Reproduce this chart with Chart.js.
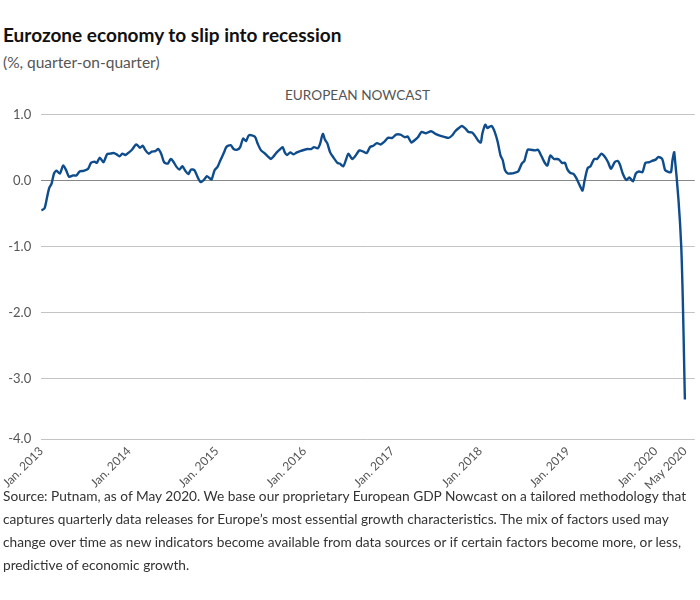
<!DOCTYPE html>
<html>
<head>
<meta charset="utf-8">
<script src="https://cdn.jsdelivr.net/npm/chart.js@4"></script>
<style>
  body { margin: 0; background: #fff; font-family: Lato, sans-serif; }
  #wrap { position: relative; width: 700px; height: 600px; overflow: hidden; }
  .title { position: absolute; left: 3px; top: 23px; font-size: 19px; font-weight: bold; color: #111; white-space: nowrap; }
  .sub { position: absolute; left: 3px; top: 53px; font-size: 15.5px; color: #555; white-space: nowrap; }
  .series { position: absolute; left: 285px; top: 87px; font-size: 13.6px; color: #555; white-space: nowrap; }
  .note { position: absolute; left: 3px; top: 484px; font-size: 13.7px; line-height: 23px; color: #333; white-space: nowrap; }
  #box { position: absolute; left: 0; top: 97px; width: 700px; height: 402px; }
</style>
</head>
<body>
<div id="wrap">
  <div class="title">Eurozone economy to slip into recession</div>
  <div class="sub">(%, quarter-on-quarter)</div>
  <div class="series">EUROPEAN NOWCAST</div>
  <div id="box"><canvas id="chart"></canvas></div>
  <div class="note">Source: Putnam, as of May 2020. We base our proprietary European GDP Nowcast on a tailored methodology that<br>captures quarterly data releases for Europe’s most essential growth characteristics. The mix of factors used may<br>change over time as new indicators become available from data sources or if certain factors become more, or less,<br>predictive of economic growth.</div>
</div>
<script>
// months since Jan. 2013
const monthIndex = [
  0, 0.45, 0.8, 1.1, 1.4, 1.75, 2.1, 2.55, 3, 3.4, 3.8, 4.35, 4.8, 5.25, 5.8, 6.4, 6.8, 7.3, 7.6, 8,
  8.5, 9, 9.4, 9.9, 10.3, 10.7, 11.1, 11.5, 12, 12.4, 13, 13.5, 13.9, 14.2, 14.7, 15.1, 15.6, 16, 16.4, 16.8,
  17.3, 17.7, 18, 18.5, 18.9, 19.3, 19.7, 20.1, 20.5, 20.95, 21.4, 21.8, 22.3, 22.65, 23, 23.3, 23.7, 24.1, 24.5, 25,
  25.3, 25.9, 26.3, 26.8, 27.2, 27.6, 28, 28.4, 29.2, 29.6, 30.05, 30.5, 30.96, 31.4, 31.7, 32.2, 32.6, 33, 33.3, 33.6,
  34.05, 34.5, 34.95, 35.4, 36, 36.4, 36.9, 37.3, 37.8, 38.1, 38.5, 38.8, 39.1, 39.5, 39.9, 40.5, 40.8, 41.3, 41.7, 42,
  42.5, 42.9, 43.5, 44.05, 44.5, 44.95, 45.4, 45.9, 46.4, 46.9, 47.4, 48, 48.5, 49.1, 49.7, 50.1, 50.6, 51, 51.5, 52,
  52.6, 53.3, 53.9, 54.6, 55, 55.7, 56.2, 56.6, 57.1, 57.5, 58, 58.4, 58.9, 59.3, 59.8, 60.1, 60.3, 60.7, 61, 61.3,
  61.6, 62, 62.4, 62.8, 63.1, 63.4, 63.8, 64.2, 64.7, 65.2, 65.7, 66.05, 66.5, 66.9, 67.5, 67.9, 68.4, 68.8, 69.2, 69.6,
  70.1, 70.5, 70.8, 71.2, 71.6, 71.9, 72.3, 72.8, 73.2, 73.7, 74, 74.3, 74.7, 75.1, 75.6, 76, 76.6, 77, 77.5, 77.9,
  78.4, 78.8, 79.1, 79.5, 80, 80.4, 80.9, 81.3, 81.7, 82.2, 82.6, 83.1, 83.5, 84, 84.4, 84.9, 85.3, 85.8, 86.1, 86.3,
  86.55, 87.5, 88
];
const nowcast = [
  -0.45, -0.42, -0.25, -0.11, -0.05, 0.11, 0.15, 0.11, 0.23, 0.16, 0.06, 0.08, 0.08, 0.14, 0.15, 0.18, 0.27, 0.29, 0.27, 0.35,
  0.28, 0.40, 0.41, 0.42, 0.40, 0.37, 0.41, 0.39, 0.43, 0.47, 0.55, 0.50, 0.53, 0.47, 0.41, 0.44, 0.45, 0.48, 0.41, 0.28,
  0.26, 0.33, 0.30, 0.21, 0.17, 0.22, 0.15, 0.10, 0.17, 0.16, 0.05, -0.02, 0.02, 0.07, 0.04, 0.02, 0.16, 0.21, 0.31, 0.43,
  0.51, 0.54, 0.48, 0.47, 0.51, 0.64, 0.60, 0.69, 0.67, 0.56, 0.46, 0.42, 0.37, 0.33, 0.36, 0.43, 0.47, 0.51, 0.43, 0.39,
  0.43, 0.40, 0.43, 0.45, 0.47, 0.48, 0.48, 0.51, 0.49, 0.55, 0.71, 0.62, 0.57, 0.43, 0.36, 0.27, 0.26, 0.22, 0.33, 0.41,
  0.33, 0.37, 0.46, 0.44, 0.42, 0.51, 0.53, 0.57, 0.55, 0.59, 0.65, 0.65, 0.70, 0.70, 0.66, 0.67, 0.58, 0.61, 0.66, 0.74,
  0.72, 0.75, 0.71, 0.68, 0.67, 0.65, 0.69, 0.75, 0.80, 0.83, 0.79, 0.74, 0.73, 0.68, 0.60, 0.58, 0.71, 0.85, 0.80, 0.82,
  0.83, 0.74, 0.59, 0.38, 0.31, 0.16, 0.11, 0.11, 0.12, 0.14, 0.26, 0.30, 0.47, 0.47, 0.46, 0.47, 0.37, 0.28, 0.23, 0.38,
  0.33, 0.33, 0.32, 0.27, 0.27, 0.18, 0.12, 0.10, 0.03, -0.09, -0.15, 0.01, 0.19, 0.22, 0.33, 0.33, 0.41, 0.37, 0.28, 0.18,
  0.28, 0.30, 0.25, 0.11, 0.01, 0.05, -0.01, 0.11, 0.14, 0.13, 0.27, 0.28, 0.30, 0.32, 0.36, 0.33, 0.16, 0.13, 0.13, 0.31,
  0.43, -1.00, -3.32
];

const xTicks = [0, 12, 24, 36, 48, 60, 72, 84, 88];
const xLabels = ["Jan. 2013", "Jan. 2014", "Jan. 2015", "Jan. 2016", "Jan. 2017", "Jan. 2018", "Jan. 2019", "Jan. 2020", "May 2020"];
// bottom edge of the plot sits a little above -4, labelled "-4.0"
const yTicks = [1, 0, -1, -2, -3, -3.92];
const yLabels = ["1.0", "0.0", "-1.0", "-2.0", "-3.0", "-4.0"];

new Chart(document.getElementById("chart"), {
  type: "line",
  data: {
    datasets: [{
      data: monthIndex.map((m, i) => ({ x: m, y: nowcast[i] })),
      borderColor: "#0e4c8c",
      borderWidth: 2.4,
      pointRadius: 0,
      tension: 0.25,
      fill: false
    }]
  },
  options: {
    responsive: true,
    maintainAspectRatio: false,
    animation: false,
    layout: { padding: { top: 11, right: 0, left: 0, bottom: 0 } },
    plugins: { legend: { display: false }, tooltip: { enabled: false } },
    scales: {
      x: {
        type: "linear",
        min: 0,
        max: 89.35,
        afterBuildTicks: s => { s.ticks = xTicks.map(v => ({ value: v })); },
        afterFit: s => { s.height = 60; },
        ticks: {
          autoSkip: false,
          maxRotation: 45,
          minRotation: 45,
          padding: 5,
          color: "#555",
          font: { family: "Lato", size: 12 },
          callback: v => xLabels[xTicks.indexOf(v)]
        },
        grid: { display: false, drawTicks: false },
        border: { display: false }
      },
      y: {
        min: -3.92,
        max: 1,
        afterBuildTicks: s => { s.ticks = yTicks.map(v => ({ value: v })); },
        afterFit: s => { s.width = 36; },
        ticks: {
          padding: 10,
          color: "#555",
          font: { family: "Lato", size: 13 },
          callback: v => yLabels[yTicks.indexOf(v)]
        },
        grid: {
          drawTicks: false,
          color: c => c.tick && c.tick.value === 0 ? "#888" : "#c4c4c4",
          lineWidth: 1
        },
        border: { display: false }
      }
    }
  }
});
</script>
</body>
</html>
